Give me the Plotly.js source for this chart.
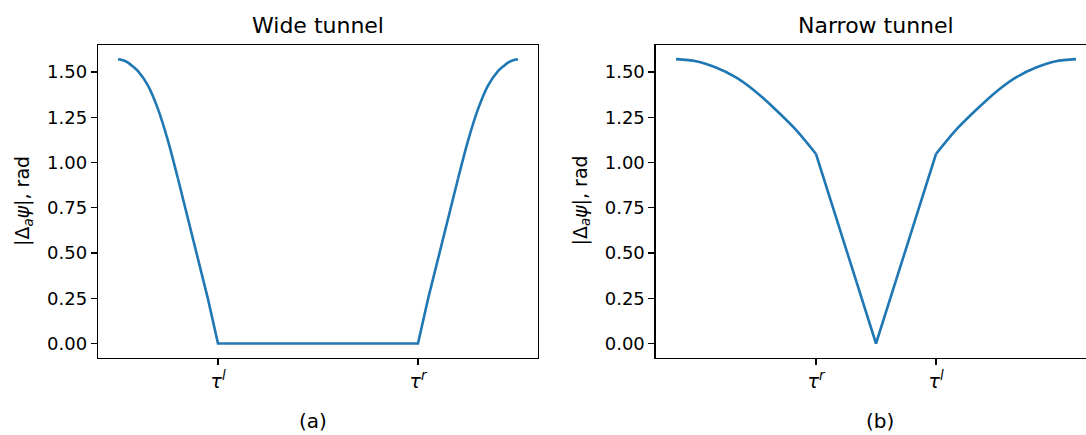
<!DOCTYPE html>
<html>
<head>
<meta charset="utf-8">
<script src="https://cdn.plot.ly/plotly-3.0.1.min.js"></script>
<style>
html,body{margin:0;padding:0;background:#fff;}
#chart{width:1086px;height:435px;}
</style>
</head>
<body>
<div id="chart"></div>
<script>
// ---- Data ----
// Wide tunnel (a)
const wideX = [0, 0.0125, 0.025, 0.0375, 0.05, 0.075, 0.1, 0.125, 0.15, 0.175, 0.2, 0.225, 0.25,
               0.75, 0.775, 0.8, 0.825, 0.85, 0.875, 0.9, 0.925, 0.95, 0.9625, 0.975, 0.9875, 1];
const wideY = [1.571, 1.565, 1.552, 1.530, 1.505, 1.425, 1.295, 1.120, 0.910, 0.690, 0.470, 0.245, 0.0,
               0.0, 0.245, 0.470, 0.690, 0.910, 1.120, 1.295, 1.425, 1.505, 1.530, 1.552, 1.565, 1.571];
// Narrow tunnel (b)
const narrowX = [0, 0.05, 0.1, 0.15, 0.2, 0.25, 0.3, 0.35, 0.5, 0.65, 0.7, 0.75, 0.8, 0.85, 0.9, 0.95, 1];
const narrowY = [1.571, 1.560, 1.525, 1.470, 1.390, 1.290, 1.180, 1.047, 0.0,
                 1.047, 1.180, 1.290, 1.390, 1.470, 1.525, 1.560, 1.571];
// Tick labels
const wideTickVals = [0.25, 0.75];
const wideTickText = ["<i>τ</i><sup><i>l</i></sup>", "<i>τ</i><sup><i>r</i></sup>"];
const narrowTickVals = [0.35, 0.65];
const narrowTickText = ["<i>τ</i><sup><i>r</i></sup>", "<i>τ</i><sup><i>l</i></sup>"];
const yTickVals = [0, 0.25, 0.5, 0.75, 1.0, 1.25, 1.5];
const panelTitles = ["Wide tunnel", "Narrow tunnel"];
const panelCaptions = ["(a)", "(b)"];
const yTitle = "|Δ<sub><i>a</i></sub><i>ψ</i>|, rad";

// ---- Layout helpers ----
const W = 1086, H = 435;
const px = v => v / W;
const py = v => 1 - v / H;
const FONT = "DejaVu Sans, sans-serif";
const lineColor = "#1f77b4";

const yRange = [-0.0785, 1.6493];
const yDom = [py(357.7), py(45)];

function xAxis(domain, range, vals, text, mirror) {
  return {
    domain: domain, range: range, tickmode: "array", tickvals: vals, ticktext: text,
    showline: true, linecolor: "#000", linewidth: 1.3, mirror: mirror,
    ticks: "outside", ticklen: 6, tickwidth: 1.2, tickcolor: "#000",
    showgrid: false, zeroline: false, fixedrange: true,
    tickfont: {family: FONT, size: 19, color: "#000"}
  };
}
function yAxis(anchor, mirror) {
  return {
    domain: yDom, range: yRange, anchor: anchor, tickmode: "array", tickvals: yTickVals,
    tickformat: ".2f",
    showline: true, linecolor: "#000", linewidth: 1.3, mirror: mirror,
    ticks: "outside", ticklen: 6, tickwidth: 1.2, tickcolor: "#000",
    showgrid: false, zeroline: false, fixedrange: true,
    tickfont: {family: FONT, size: 18, color: "#000"}
  };
}

// Split a series into smooth (spline) curved pieces and straight pieces
function seg(xs, ys, i0, i1, xa, ya, shape) {
  return {x: xs.slice(i0, i1 + 1), y: ys.slice(i0, i1 + 1), xaxis: xa, yaxis: ya, mode: "lines",
          line: {color: lineColor, width: 2.6, shape: shape, smoothing: 0.8}, hoverinfo: "skip"};
}

const traces = [
  seg(wideX, wideY, 0, 8, "x", "y", "spline"),
  seg(wideX, wideY, 8, 17, "x", "y", "linear"),
  seg(wideX, wideY, 17, 25, "x", "y", "spline"),
  seg(narrowX, narrowY, 0, 7, "x2", "y2", "spline"),
  seg(narrowX, narrowY, 7, 9, "x2", "y2", "linear"),
  seg(narrowX, narrowY, 9, 16, "x2", "y2", "spline")
];

// Left axes: 98..538 px ; data 0..1 at 118..518
// Right axes: 655.7.. (cut off) ; data 0..1 at 676..1076
const layout = {
  width: W, height: H,
  margin: {l: 0, r: 0, t: 0, b: 0, pad: 0},
  paper_bgcolor: "#fff", plot_bgcolor: "#fff",
  showlegend: false,
  xaxis: Object.assign(xAxis([px(98), px(538)], [-0.05, 1.05], wideTickVals, wideTickText, true), {anchor: "y"}),
  yaxis: yAxis("x", true),
  xaxis2: Object.assign(xAxis([px(655.7), 1], [-(676 - 655.7) / 400, (1086 - 676) / 400], narrowTickVals, narrowTickText, true), {anchor: "y2"}),
  yaxis2: yAxis("x2", false),
  annotations: [
    {text: panelTitles[0], xref: "paper", yref: "paper", x: px(318), y: py(25), xanchor: "center", yanchor: "middle",
     showarrow: false, font: {family: FONT, size: 22, color: "#000"}},
    {text: panelTitles[1], xref: "paper", yref: "paper", x: px(876), y: py(25), xanchor: "center", yanchor: "middle",
     showarrow: false, font: {family: FONT, size: 22, color: "#000"}},
    {text: panelCaptions[0], xref: "paper", yref: "paper", x: px(313), y: py(421), xanchor: "center", yanchor: "middle",
     showarrow: false, font: {family: FONT, size: 20, color: "#000"}},
    {text: panelCaptions[1], xref: "paper", yref: "paper", x: px(880), y: py(421), xanchor: "center", yanchor: "middle",
     showarrow: false, font: {family: FONT, size: 20, color: "#000"}},
    {text: yTitle, xref: "paper", yref: "paper", x: px(23), y: py(201), xanchor: "center", yanchor: "middle",
     textangle: -90, showarrow: false, font: {family: FONT, size: 19, color: "#000"}},
    {text: yTitle, xref: "paper", yref: "paper", x: px(580.5), y: py(201), xanchor: "center", yanchor: "middle",
     textangle: -90, showarrow: false, font: {family: FONT, size: 19, color: "#000"}}
  ]
};

Plotly.newPlot("chart", traces, layout, {displayModeBar: false, staticPlot: true});
</script>
</body>
</html>
